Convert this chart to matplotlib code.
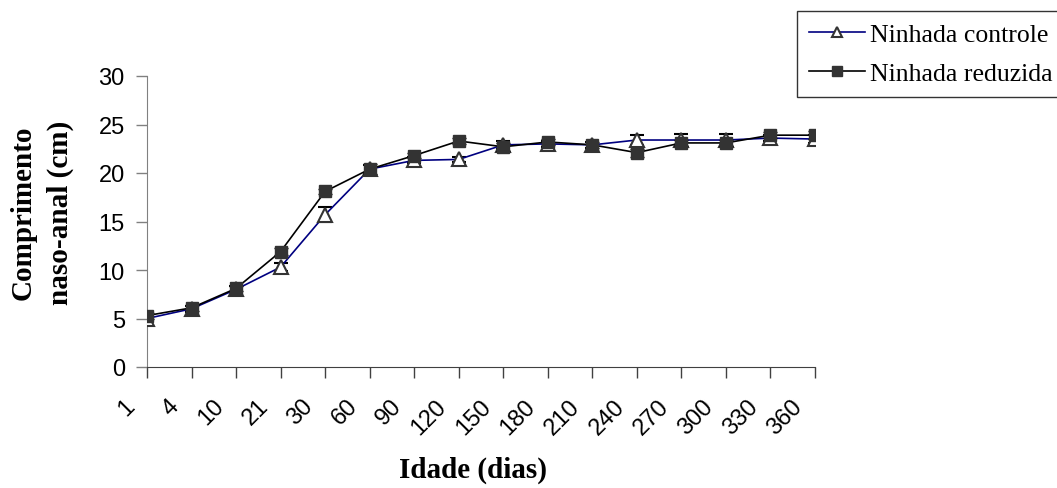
import matplotlib
matplotlib.use('Agg')
import matplotlib.pyplot as plt
import matplotlib.transforms as mtransforms
import numpy as np

# idade em dias (eixo categorico)
dias = ['1', '4', '10', '21', '30', '60', '90', '120', '150', '180',
        '210', '240', '270', '300', '330', '360']

# comprimento naso-anal medio (cm)
controle = [5.0, 6.0, 8.0, 10.3, 15.7, 20.4, 21.3, 21.4, 22.9, 23.0,
            22.9, 23.4, 23.4, 23.4, 23.6, 23.5]
reduzida = [5.3, 6.1, 8.1, 11.9, 18.1, 20.4, 21.8, 23.3, 22.7, 23.2,
            22.9, 22.1, 23.1, 23.1, 23.9, 23.9]

# erro padrao
controle_ep = [0.3, 0.3, 0.3, 0.4, 0.8, 0.4, 0.3, 0.3, 0.4, 0.3,
               0.3, 0.5, 0.65, 0.65, 0.3, 0.4]
reduzida_ep = [0.3, 0.3, 0.3, 0.4, 0.3, 0.5, 0.3, 0.3, 0.4, 0.3,
               0.3, 0.4, 0.3, 0.3, 0.3, 0.4]

SANS = 'Liberation Sans'
SERIF = 'Liberation Serif'

W, H = 1057, 489
fig = plt.figure(figsize=(W / 100, H / 100), dpi=100)
ax = fig.add_axes([147 / W, 1 - 368 / H, (815 - 147) / W, 291 / H])

x = np.arange(len(dias))

c = ax.errorbar(x, controle, yerr=controle_ep, color='#000080', lw=1.2,
                marker='^', ms=9.5, mfc='white', mec='#333333', mew=1.5,
                ecolor='black', elinewidth=1, capsize=5, capthick=1,
                zorder=3)
r = ax.errorbar(x, reduzida, yerr=reduzida_ep, color='black', lw=1.2,
                marker='s', ms=9, mfc='#333333', mec='#333333', mew=1,
                ecolor='black', elinewidth=1, capsize=5, capthick=1,
                zorder=4)

ax.set_xlim(0, len(dias) - 1)
ax.set_ylim(0, 30)
ax.set_yticks(range(0, 31, 5))
ax.set_xticks(x)
ax.set_xticklabels(dias)

ax.spines['top'].set_visible(False)
ax.spines['right'].set_visible(False)
ax.spines['left'].set_color('#808080')
ax.spines['bottom'].set_color('#404040')

ax.tick_params(axis='y', direction='out', length=8, width=1, color='#808080',
               pad=8, labelsize=17)
ax.tick_params(axis='x', direction='out', length=8, width=1, color='#404040',
               pad=12, labelsize=17)

for lab in ax.get_yticklabels():
    lab.set_fontfamily(SANS)

shift = mtransforms.ScaledTranslation(-8 / 100, 0, fig.dpi_scale_trans)
for lab in ax.get_xticklabels():
    lab.set_fontfamily(SANS)
    lab.set_rotation(45)
    lab.set_ha('right')
    lab.set_va('top')
    lab.set_transform(lab.get_transform() + shift)

fig.text(42 / W, 1 - 213 / H, 'Comprimento\nnaso-anal (cm)', rotation=90,
         ha='center', va='center', fontfamily=SERIF, fontweight='bold',
         fontsize=21, linespacing=1.45, multialignment='center')
fig.text(473 / W, 1 - 470 / H, 'Idade (dias)', ha='center', va='center',
         fontfamily=SERIF, fontweight='bold', fontsize=21)

leg = ax.legend([c[0], r[0]], ['Ninhada controle', 'Ninhada reduzida'],
                loc='upper left', bbox_to_anchor=(797 / W, 1 - 12 / H),
                bbox_transform=fig.transFigure, borderaxespad=0,
                prop={'family': SERIF, 'size': 18.5}, frameon=True,
                fancybox=False, edgecolor='black', handlelength=2.2,
                handletextpad=0.2, borderpad=0.45, labelspacing=0.65)
leg.get_frame().set_linewidth(1)
for h in leg.legend_handles:
    h.set_markersize(7)

fig.savefig('out.png', dpi=100)
